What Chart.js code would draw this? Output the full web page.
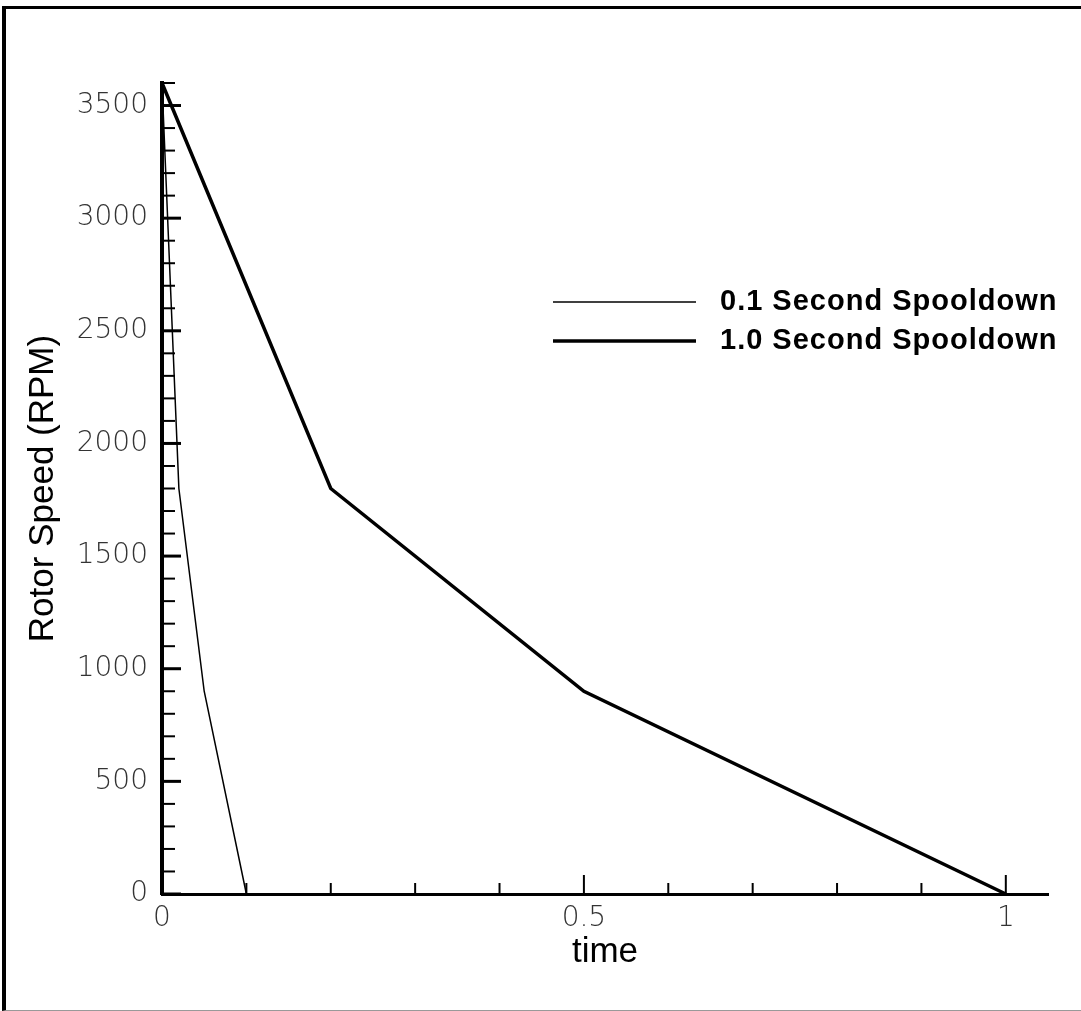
<!DOCTYPE html>
<html>
<head>
<meta charset="utf-8">
<script src="https://cdn.jsdelivr.net/npm/chart.js@4.4.1/dist/chart.umd.min.js"></script>
<style>
  html, body { margin: 0; padding: 0; background: #fff; overflow: hidden; }
  #wrap { position: relative; width: 1081px; height: 1011px; }
  #frame {
    position: absolute; left: 2px; top: 6px; width: 1200px; height: 1001px;
    border-left: 4px solid #000; border-top: 3px solid #000; border-bottom: 1px solid #999;
    pointer-events: none;
  }
</style>
</head>
<body>
<div id="wrap">
  <canvas id="rotorChart" width="1081" height="1011"></canvas>
  <div id="frame"></div>
</div>
<script>
// spooldown profiles: time (s) vs rotor speed (RPM)
const timeFast = [0, 0.02, 0.05, 0.1];
const rpmFast = [3600, 1800, 900, 0];
const timeSlow = [0, 0.2, 0.5, 1.0];
const rpmSlow = [3600, 1800, 900, 0];
const seriesLabels = ['0.1 Second Spooldown', '1.0 Second Spooldown'];
const xMajor = [0, 0.5, 1];
const yMajorStep = 500;

const toPoints = (xs, ys) => xs.map((x, i) => ({ x: x, y: ys[i] }));

const tickFont = { family: 'DejaVu Sans', size: 28, weight: 200 };
const titleFont = { family: 'Liberation Sans', size: 35 };

const isMajorX = v => xMajor.some(m => Math.abs(m - v) < 1e-6);

// inward tick marks, long at labelled values
const innerTicks = {
  id: 'innerTicks',
  afterDatasetsDraw(chart) {
    const { ctx, chartArea, scales } = chart;
    ctx.save();
    ctx.strokeStyle = '#000';
    scales.y.ticks.forEach(t => {
      const py = scales.y.getPixelForValue(t.value);
      const major = t.value % yMajorStep === 0;
      ctx.lineWidth = major ? 3 : 2;
      ctx.beginPath();
      ctx.moveTo(chartArea.left, py);
      ctx.lineTo(chartArea.left + (major ? 19 : 13), py);
      ctx.stroke();
    });
    scales.x.ticks.forEach(t => {
      if (t.value > 1.0001) return;
      const px = scales.x.getPixelForValue(t.value);
      const major = isMajorX(t.value);
      ctx.lineWidth = 2;
      ctx.beginPath();
      ctx.moveTo(px, chartArea.bottom);
      ctx.lineTo(px, chartArea.bottom - (major ? 19 : 11));
      ctx.stroke();
    });
    ctx.restore();
  }
};

// legend drawn inside the plot, to the right
const sideLegend = {
  id: 'sideLegend',
  afterDraw(chart) {
    const { ctx } = chart;
    const rows = [302, 341];
    ctx.save();
    ctx.font = 'bold 29px "Liberation Sans"';
    ctx.letterSpacing = '1px';
    ctx.textBaseline = 'middle';
    ctx.fillStyle = '#000';
    chart.data.datasets.forEach((ds, i) => {
      const y = rows[i];
      ctx.strokeStyle = ds.borderColor;
      ctx.lineWidth = ds.borderWidth;
      ctx.beginPath();
      ctx.moveTo(553, y);
      ctx.lineTo(696, y);
      ctx.stroke();
      ctx.fillText(ds.label, 720, y);
    });
    ctx.restore();
  }
};

new Chart(document.getElementById('rotorChart'), {
  type: 'line',
  data: {
    datasets: [
      {
        label: seriesLabels[0],
        data: toPoints(timeFast, rpmFast),
        borderColor: '#000',
        borderWidth: 1.5,
        pointRadius: 0,
        tension: 0,
        clip: false
      },
      {
        label: seriesLabels[1],
        data: toPoints(timeSlow, rpmSlow),
        borderColor: '#000',
        borderWidth: 3.5,
        pointRadius: 0,
        tension: 0,
        clip: false
      }
    ]
  },
  options: {
    responsive: false,
    animation: false,
    layout: { padding: { top: 83, right: 33, left: 0, bottom: 0 } },
    plugins: {
      legend: { display: false },
      tooltip: { enabled: false }
    },
    scales: {
      x: {
        type: 'linear',
        min: 0,
        max: 1.05,
        afterFit: s => { s.height = 117; },
        ticks: {
          stepSize: 0.1,
          includeBounds: false,
          autoSkip: false,
          maxRotation: 0,
          padding: 8,
          color: '#333',
          font: tickFont,
          callback: v => isMajorX(v) ? String(Math.round(v * 10) / 10) : ''
        },
        grid: { display: true, drawOnChartArea: false, drawTicks: false },
        border: { display: true, width: 3, color: '#000' },
        title: { display: true, text: 'time', color: '#000', font: titleFont, padding: { top: 0, bottom: 38 } }
      },
      y: {
        type: 'linear',
        min: 0,
        max: 3600,
        afterFit: s => { s.width = 162; },
        ticks: {
          stepSize: 100,
          autoSkip: false,
          padding: 14,
          color: '#333',
          font: tickFont,
          callback: v => v % yMajorStep === 0 ? String(v) : ''
        },
        grid: { display: true, drawOnChartArea: false, drawTicks: false },
        border: { display: true, width: 4, color: '#000' },
        title: { display: true, text: 'Rotor Speed (RPM)', color: '#000', font: titleFont, padding: { top: 22, bottom: 0 } }
      }
    }
  },
  plugins: [innerTicks, sideLegend]
});
</script>
</body>
</html>
